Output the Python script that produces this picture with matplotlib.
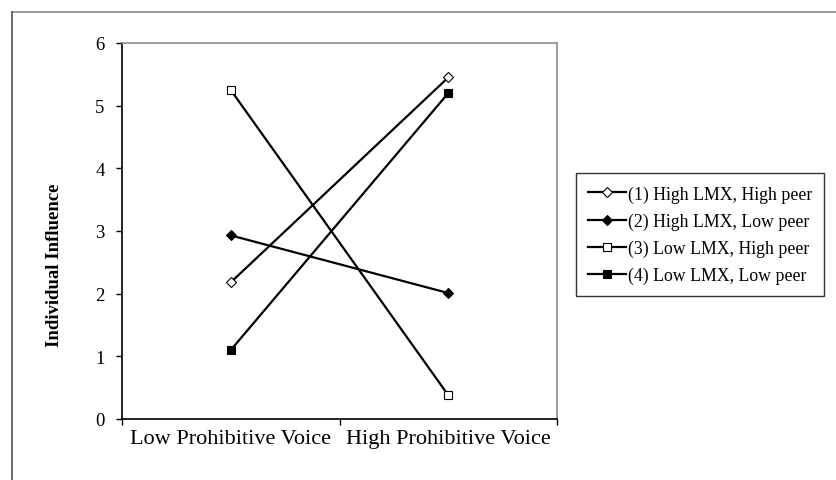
import matplotlib
matplotlib.use('Agg')
import matplotlib.pyplot as plt
from matplotlib.lines import Line2D

plt.rcParams['font.family'] = ['Liberation Serif', 'DejaVu Serif']

# data
conditions = ['Low Prohibitive Voice', 'High Prohibitive Voice']
labels = ['(1) High LMX, High peer', '(2) High LMX, Low peer',
          '(3) Low LMX, High peer', '(4) Low LMX, Low peer']
high_lmx_high_peer = [2.18, 5.45]
high_lmx_low_peer = [2.93, 2.01]
low_lmx_high_peer = [5.25, 0.38]
low_lmx_low_peer = [1.10, 5.20]

series = [high_lmx_high_peer, high_lmx_low_peer, low_lmx_high_peer, low_lmx_low_peer]
styles = [('D', 'white', 5), ('D', 'black', 5), ('s', 'white', 5.5), ('s', 'black', 5.5)]

W, H = 837, 481
fig = plt.figure(figsize=(W / 100, H / 100), dpi=100)
ax = fig.add_axes([122 / W, 1 - 420 / H, 435 / W, 376 / H])

xpos = [0.5, 1.5]
handles = []
for vals, lab, (m, fc, ms) in zip(series, labels, styles):
    h, = ax.plot(xpos, vals, color='black', lw=1.6, marker=m, markersize=ms,
                 markerfacecolor=fc, markeredgecolor='black', markeredgewidth=0.8,
                 label=lab)
    handles.append(h)

ax.set_xlim(0, 2)
ax.set_ylim(0, 6)
ax.set_yticks(range(0, 7))
ax.set_xticks([0, 1, 2])
ax.set_xticklabels([])
ax.set_xticks(xpos, minor=True)
ax.set_xticklabels(conditions, minor=True)
ax.tick_params(axis='x', which='minor', length=0, pad=7, labelsize=16)
ax.tick_params(axis='x', which='major', direction='out', length=4, width=1)
ax.tick_params(axis='y', direction='out', length=4.5, width=1, labelsize=13.5, pad=8)

ax.spines['top'].set_color('#8c8c8c')
ax.spines['right'].set_color('#8c8c8c')
for s in ax.spines.values():
    s.set_linewidth(1.2)

fig.text(55 / W, 1 - 265 / H, 'Individual Influence', rotation=90,
         ha='center', va='center', fontsize=13.5, fontweight='bold')

leg = fig.legend(handles=handles, loc='upper left', bbox_to_anchor=(576 / W, 1 - 174 / H),
                 frameon=True, fancybox=False, edgecolor='black', fontsize=12.8,
                 handlelength=2.1, handletextpad=0.1, labelspacing=0.55,
                 borderpad=0.7, borderaxespad=0)
leg.get_frame().set_linewidth(1.0)

# outer frame lines (top and left)
fig.add_artist(Line2D([12 / W, 1], [1 - 13 / H, 1 - 13 / H],
                      transform=fig.transFigure, color='#8c8c8c', lw=1.2))
fig.add_artist(Line2D([12 / W, 12 / W], [0, 1 - 13 / H],
                      transform=fig.transFigure, color='#555555', lw=1.2))

fig.savefig('out.png', dpi=100, facecolor='white')
